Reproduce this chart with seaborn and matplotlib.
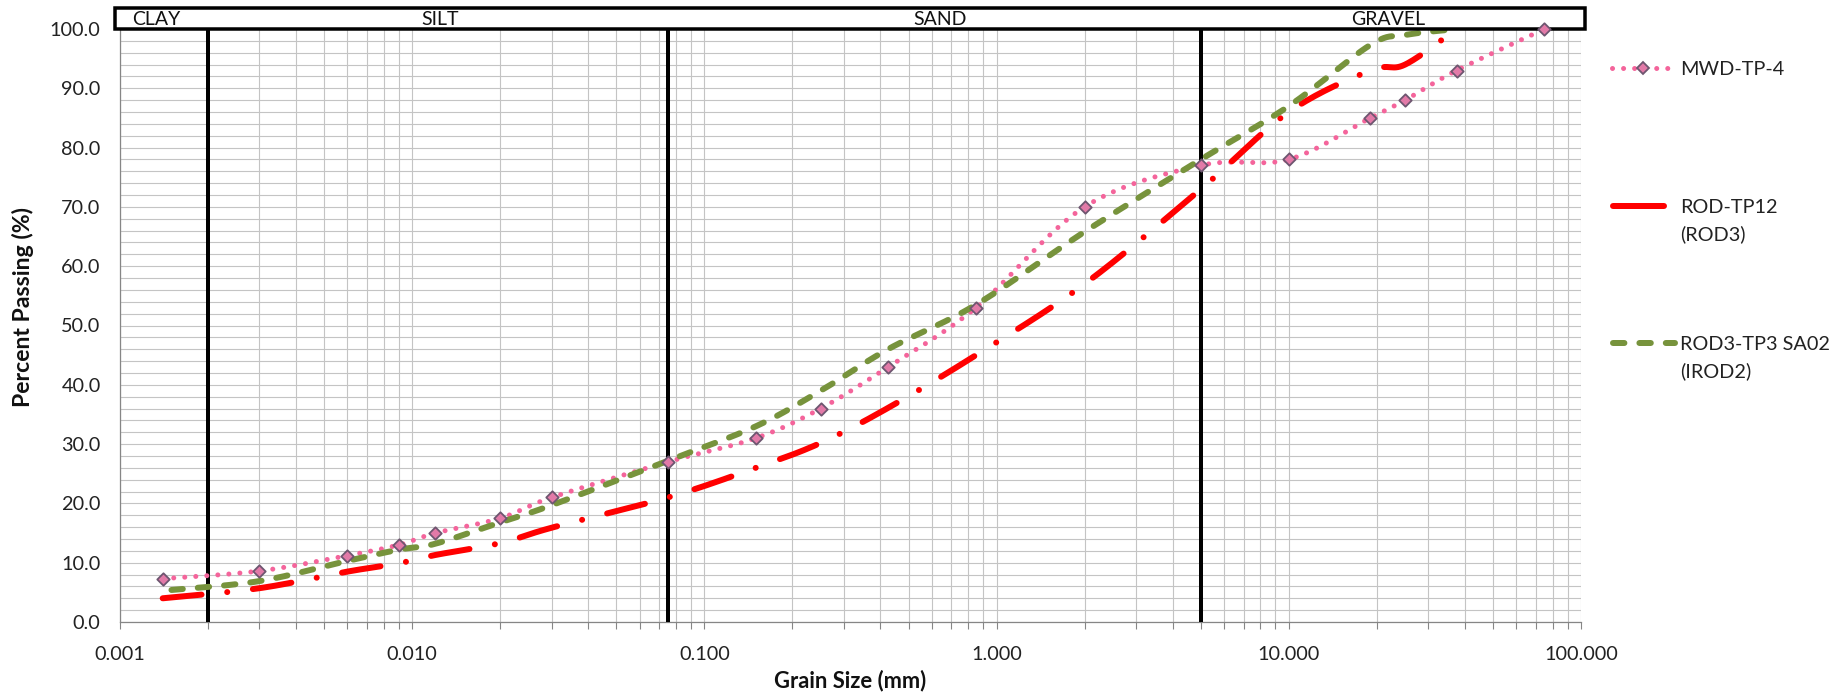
import numpy as np
import pandas as pd
import matplotlib
matplotlib.use("Agg")
import matplotlib.pyplot as plt
import seaborn as sns
from matplotlib.lines import Line2D
from matplotlib.patches import Rectangle
from matplotlib.ticker import FixedLocator, FixedFormatter, NullFormatter
import matplotlib.transforms as mtransforms

# ---------------- data ----------------
mwd_size = [0.0014, 0.003, 0.006, 0.009, 0.012, 0.02, 0.03, 0.075, 0.15, 0.25,
            0.425, 0.85, 2.0, 5.0, 10.0, 19.0, 25.0, 37.5, 75.0]
mwd_pass = [7.3, 8.6, 11.2, 13.0, 15.0, 17.5, 21.0, 27.0, 31.0, 36.0,
            43.0, 53.0, 70.0, 77.0, 78.0, 85.0, 88.0, 93.0, 100.0]

rod3_size = [0.0014, 0.003, 0.006, 0.009, 0.012, 0.02, 0.03, 0.075, 0.15, 0.25,
             0.425, 0.85, 2.0, 5.0, 10.0, 19.0, 25.0, 37.5]
rod3_pass = [4.0, 5.7, 8.5, 9.9, 11.3, 13.3, 15.9, 21.0, 26.0, 30.2,
             36.1, 45.0, 57.0, 73.0, 86.0, 93.0, 94.0, 100.0]

irod2_size = [0.0015, 0.003, 0.006, 0.009, 0.012, 0.02, 0.03, 0.075, 0.15, 0.25,
              0.425, 0.85, 2.0, 5.0, 10.0, 19.0, 25.0, 37.5]
irod2_pass = [5.4, 6.9, 10.3, 12.2, 13.2, 16.8, 19.7, 27.2, 33.0, 39.0,
              46.0, 53.5, 65.8, 78.0, 87.0, 97.3, 99.0, 100.0]

series_names = ["MWD-TP-4", "ROD-TP12\n(ROD3)", "ROD3-TP3 SA02\n(IROD2)"]

soil_bounds = [0.002, 0.075, 5.0]
soil_labels = ["CLAY", "SILT", "SAND", "GRAVEL"]
soil_label_x = [0.0011, 0.01245, 0.64, 21.8]

x_ticks = [0.001, 0.01, 0.1, 1, 10, 100]
x_tick_labels = ["0.001", "0.010", "0.100", "1.000", "10.000", "100.000"]
y_ticks = [0, 10, 20, 30, 40, 50, 60, 70, 80, 90, 100]
y_tick_labels = ["0.0", "10.0", "20.0", "30.0", "40.0", "50.0", "60.0",
                 "70.0", "80.0", "90.0", "100.0"]

# ---------------- style ----------------
sns.set_theme(style="white")
plt.rcParams["font.family"] = ["Lato", "DejaVu Sans"]

PINK = "#f4649b"
PINK_FILL = "#e27aa8"
PINK_EDGE = "#6e5670"
RED = "#ff0000"
GREEN = "#77933c"
GRID = "#c4c4c4"
AXIS = "#868686"
TXT = "#222222"

FS_TICK = 14.3
FS_HEAD = 14
FS_LEG = 14.3
FS_XLAB = 15.8
FS_YLAB = 16.6

W, H = 1849, 695
fig = plt.figure(figsize=(W / 100, H / 100), dpi=100)
L, R, T, B = 120, 1581, 29, 622
ax = fig.add_axes([L / W, 1 - B / H, (R - L) / W, (B - T) / H])
ax.set_xscale("log")
ax.set_xlim(0.001, 100)
ax.set_ylim(0, 100)


def smooth(xs, ys, n=30):
    """Excel-like smoothed line (Bezier / Catmull-Rom) in log-x space."""
    P = np.column_stack([np.log10(xs), np.asarray(ys, float)])
    Pe = np.vstack([P[0], P, P[-1]])
    t = np.linspace(0, 1, n, endpoint=False)[:, None]
    out = []
    for i in range(1, len(Pe) - 2):
        p0, p1, p2, p3 = Pe[i - 1], Pe[i], Pe[i + 1], Pe[i + 2]
        c1 = p1 + (p2 - p0) / 6
        c2 = p2 - (p3 - p1) / 6
        out.append((1 - t) ** 3 * p1 + 3 * (1 - t) ** 2 * t * c1
                   + 3 * (1 - t) * t ** 2 * c2 + t ** 3 * p2)
    out.append(P[-1][None, :])
    pts = np.vstack(out)
    return 10 ** pts[:, 0], pts[:, 1]


def px2pt(px):
    return px * 72 / 100


styles = [
    dict(x=mwd_size, y=mwd_pass, color=PINK, lw=px2pt(5.0), ls=(0, (0.01, 2.2))),
    dict(x=rod3_size, y=rod3_pass, color=RED, lw=px2pt(6.0), ls=(0, (6.5, 4.3, 0.01, 4.3))),
    dict(x=irod2_size, y=irod2_pass, color=GREEN, lw=px2pt(6.0), ls=(0, (1.9, 2.5))),
]

for name, st in zip(series_names, styles):
    sx, sy = smooth(st["x"], st["y"])
    df = pd.DataFrame({"size": sx, "pass": sy})
    sns.lineplot(data=df, x="size", y="pass", ax=ax, estimator=None, sort=False,
                 color=st["color"], linewidth=st["lw"], zorder=4)
    ln = ax.get_lines()[-1]
    ln.set_linestyle(st["ls"])
    ln.set_dash_capstyle("round")
    ln.set_solid_capstyle("round")

# markers for MWD-TP-4
sns.scatterplot(x=mwd_size, y=mwd_pass, ax=ax, marker="D", s=40, color=PINK_FILL,
                edgecolor=PINK_EDGE, linewidth=1.3, zorder=8, clip_on=False)

# soil boundary lines
for b in soil_bounds:
    ax.axvline(b, color="black", lw=px2pt(4), zorder=3)

# grid
ax.xaxis.set_minor_locator(FixedLocator(
    [m * 10.0 ** e for e in range(-3, 2) for m in range(2, 10)]))
ax.yaxis.set_minor_locator(FixedLocator(list(range(0, 101, 2))))
ax.grid(True, which="both", axis="both", color=GRID, lw=0.8, zorder=0)
ax.set_axisbelow(True)

ax.xaxis.set_major_locator(FixedLocator(x_ticks))
ax.xaxis.set_major_formatter(FixedFormatter(x_tick_labels))
ax.xaxis.set_minor_formatter(NullFormatter())
ax.yaxis.set_major_locator(FixedLocator(y_ticks))
ax.yaxis.set_major_formatter(FixedFormatter(y_tick_labels))

ax.tick_params(axis="x", which="both", direction="out", length=5, width=0.8,
               color=AXIS, bottom=True, labelsize=FS_TICK, pad=12, labelcolor=TXT)
ax.tick_params(axis="y", which="both", length=0, labelsize=FS_TICK, pad=14,
               labelcolor=TXT)

for s in ["top", "right"]:
    ax.spines[s].set_visible(False)
for s in ["left", "bottom"]:
    ax.spines[s].set_color(AXIS)
    ax.spines[s].set_linewidth(0.9)

ax.set_xlabel("Grain Size (mm)", fontsize=FS_XLAB, fontweight="bold", color="#111111")
ax.set_ylabel("Percent Passing (%)", fontsize=FS_YLAB, fontweight="bold", color="#111111")
ax.xaxis.set_label_coords(0.5, (B - 670) / (B - T))
ax.yaxis.set_label_coords((34 - L) / (R - L), (B - 307) / (B - T))

# header box with soil classes
box = Rectangle(((115 - L) / (R - L), 1.0), (1585 - 115) / (R - L), 21 / (B - T),
                transform=ax.transAxes, facecolor="white", edgecolor="black",
                lw=px2pt(3.5), clip_on=False, zorder=7)
ax.add_patch(box)
trans = mtransforms.blended_transform_factory(ax.transData, ax.transAxes)
for lab, xpos in zip(soil_labels, soil_label_x):
    ax.text(xpos, 1 + 11 / (B - T), lab, transform=trans,
            ha="left" if lab == "CLAY" else "center", va="center_baseline",
            fontsize=FS_HEAD, color="#111111", zorder=9, clip_on=False)


# legend (drawn manually to match layout)
def fx(p):
    return p / W


def fy(p):
    return 1 - p / H


leg_y = [68, 206, 343]
lh = Line2D([fx(1612), fx(1643), fx(1670)], [fy(leg_y[0])] * 3, transform=fig.transFigure,
            color=PINK, lw=px2pt(5.0), ls=(0, (0.01, 2.2)), dash_capstyle="round",
            marker="D", markevery=[1], markersize=6.3, markerfacecolor=PINK_FILL,
            markeredgecolor=PINK_EDGE, markeredgewidth=1.3)
fig.add_artist(lh)
fig.add_artist(Line2D([fx(1613), fx(1664)], [fy(leg_y[1])] * 2, transform=fig.transFigure,
                      color=RED, lw=px2pt(6.0), solid_capstyle="round"))
fig.add_artist(Line2D([fx(1613), fx(1675)], [fy(leg_y[2])] * 2, transform=fig.transFigure,
                      color=GREEN, lw=px2pt(6.0), ls=(0, (1.9, 2.5)), dash_capstyle="round"))

for yy, name in zip(leg_y, series_names):
    for k, line in enumerate(name.split("\n")):
        fig.text(fx(1680), fy(yy + 27 * k), line, ha="left", va="center_baseline",
                 fontsize=FS_LEG, color=TXT)

fig.savefig("out.png", dpi=100, facecolor="white")
